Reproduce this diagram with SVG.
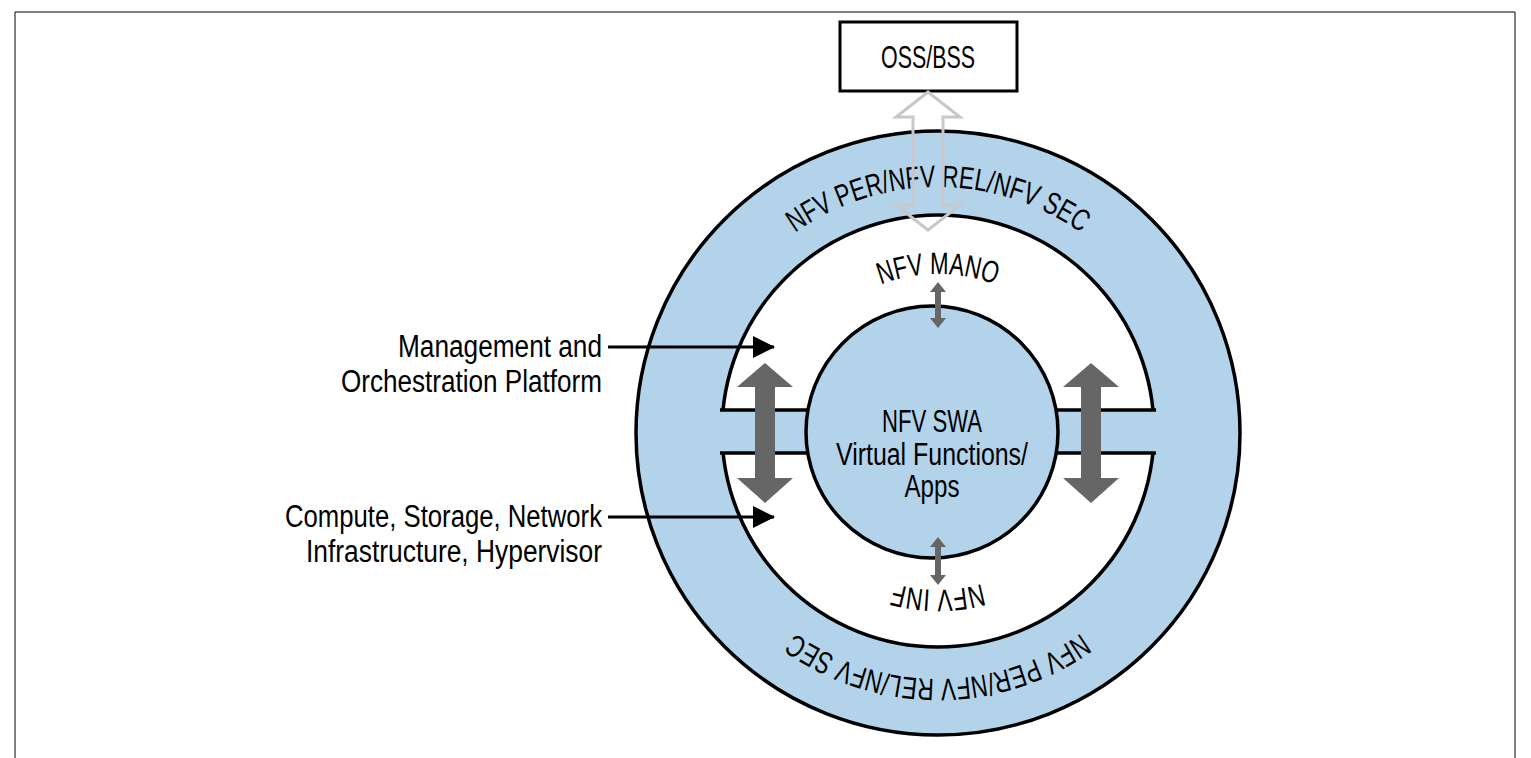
<svg xmlns="http://www.w3.org/2000/svg" xmlns:xlink="http://www.w3.org/1999/xlink" width="1531" height="758" viewBox="0 0 1531 758">
<style>
text{font-family:"Liberation Sans",Arial,sans-serif;font-size:31px;fill:#000}
.blue{fill:#b3d3ea;stroke:#000;stroke-width:3.5}
.gray{fill:#666}
</style>
<defs>
<path id="arcTop" d="M 692 433 A 246 246 0 0 1 1184 433"/>
<path id="arcMano" d="M 780 432 A 158 158 0 0 1 1096 432"/>
<marker id="ah" markerWidth="22" markerHeight="22" refX="21" refY="11" orient="auto" markerUnits="userSpaceOnUse"><path d="M0,0 L22,11 L0,22 Z"/></marker>
</defs>
<rect width="1531" height="758" fill="#fff"/>
<path d="M15,758 V12 H1515 V758" fill="none" stroke="#000" stroke-width="1"/>

<g id="outer-ring">
<circle class="blue" cx="938" cy="433" r="302"/>
<text><textPath xlink:href="#arcTop" startOffset="50%" text-anchor="middle" textLength="305" lengthAdjust="spacingAndGlyphs">NFV PER/NFV REL/NFV SEC</textPath></text>
<g transform="rotate(180 938 433)"><text><textPath xlink:href="#arcTop" startOffset="50%" text-anchor="middle" textLength="305" lengthAdjust="spacingAndGlyphs">NFV PER/NFV REL/NFV SEC</textPath></text></g>
</g>

<g id="middle-ring">
<circle cx="938" cy="431" r="216" fill="#fff" stroke="#000" stroke-width="3.5"/>
<rect x="716" y="410" width="446" height="43" fill="#b3d3ea"/>
<line x1="720" y1="410" x2="1156" y2="410" stroke="#000" stroke-width="3.5"/>
<line x1="720" y1="453" x2="1156" y2="453" stroke="#000" stroke-width="3.5"/>
<text><textPath xlink:href="#arcMano" startOffset="50%" text-anchor="middle" textLength="117" lengthAdjust="spacingAndGlyphs">NFV MANO</textPath></text>
<g transform="rotate(180 938 432)"><text><textPath xlink:href="#arcMano" startOffset="50%" text-anchor="middle" textLength="89" lengthAdjust="spacingAndGlyphs">NFV INF</textPath></text></g>
</g>

<g id="inner-circle">
<circle class="blue" cx="932" cy="432" r="126"/>
<text x="932" y="432" text-anchor="middle" textLength="100" lengthAdjust="spacingAndGlyphs">NFV SWA</text>
<text x="932" y="465" text-anchor="middle" textLength="192" lengthAdjust="spacingAndGlyphs">Virtual Functions/</text>
<text x="932" y="497" text-anchor="middle" textLength="55" lengthAdjust="spacingAndGlyphs">Apps</text>
</g>

<g id="oss-bss">
<rect x="840" y="22" width="177" height="69" fill="#fff" stroke="#000" stroke-width="3"/>
<text x="928" y="68" text-anchor="middle" textLength="94" lengthAdjust="spacingAndGlyphs">OSS/BSS</text>
</g>

<g id="label-mano">
<text x="602" y="357" text-anchor="end" textLength="204" lengthAdjust="spacingAndGlyphs">Management and</text>
<text x="602" y="392" text-anchor="end" textLength="261" lengthAdjust="spacingAndGlyphs">Orchestration Platform</text>
</g>
<g id="label-inf">
<text x="602" y="527" text-anchor="end" textLength="317" lengthAdjust="spacingAndGlyphs">Compute, Storage, Network</text>
<text x="602" y="562" text-anchor="end" textLength="296" lengthAdjust="spacingAndGlyphs">Infrastructure, Hypervisor</text>
</g>

<g id="connectors">
<line x1="608" y1="347" x2="774" y2="347" stroke="#000" stroke-width="3" marker-end="url(#ah)"/>
<line x1="608" y1="517" x2="774" y2="517" stroke="#000" stroke-width="3" marker-end="url(#ah)"/>
<path d="M928,92 L960,117 L943,117 L943,205 L960,205 L928,230 L896,205 L913,205 L913,117 L896,117 Z" fill="none" stroke="#c8c8c8" stroke-width="3"/>
<path class="gray" d="M765,363 L793,387 L775,387 L775,478 L793,478 L765,503 L737,478 L755,478 L755,387 L737,387 Z"/>
<path class="gray" d="M1091,363 L1119,387 L1101,387 L1101,478 L1119,478 L1091,503 L1063,478 L1081,478 L1081,387 L1063,387 Z"/>
<path class="gray" d="M938,282 L946,292 L941,292 L941,318 L946,318 L938,328 L930,318 L935,318 L935,292 L930,292 Z"/>
<path class="gray" d="M938,537 L946,547 L941,547 L941,575 L946,575 L938,585 L930,575 L935,575 L935,547 L930,547 Z"/>
</g>
</svg>
